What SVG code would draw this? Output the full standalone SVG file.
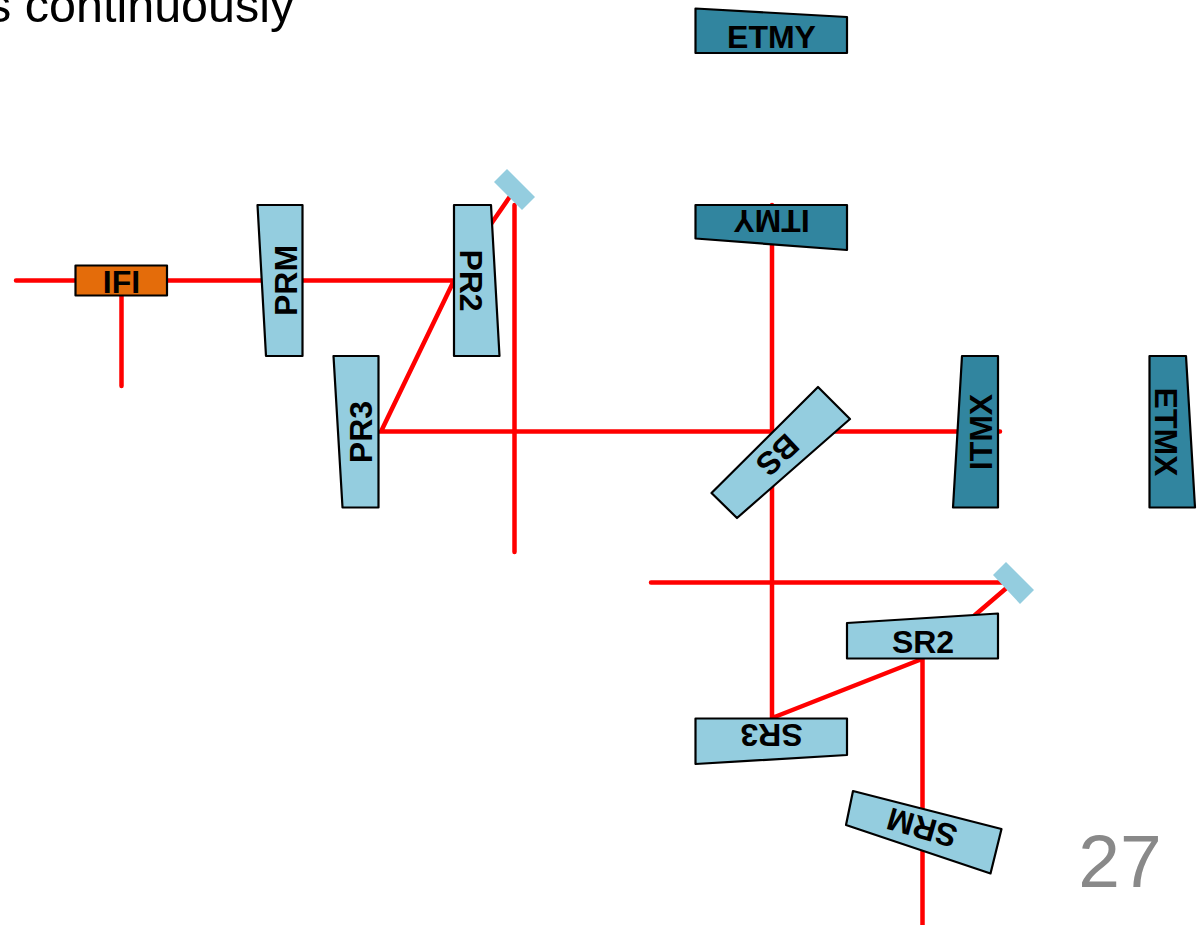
<svg xmlns="http://www.w3.org/2000/svg" width="1201" height="925" viewBox="0 0 1201 925">
<style>
text{font-family:"Liberation Sans",Arial,sans-serif}
.b{fill:none;stroke:#ff0000;stroke-width:4.5;stroke-linecap:round}
.m{stroke:#000;stroke-width:2.2;stroke-linejoin:round}
.l{fill:#94cddf}.d{fill:#31859f}.o{fill:#e46c0a}
.t{font-weight:700;font-size:32px;text-anchor:middle;fill:#000}
</style>
<rect width="1201" height="925" fill="#fff"/>
<text x="-13" y="22" font-size="48.500" fill="#000">s continuously</text>
<g id="connectors">
<path class="b" d="M16 280.500H454M121.500 280.500V386M454 280.500L381 431.500H1000M491 224L511 195M514.500 205V552M772 205V718M651 582.500H1008M975 615L1010 585M772 718L922 659M922.500 659V925"/>
</g>
<g id="M1"><polygon fill="#94cddf" points="494,182 507,169 535,197 522,210"/></g>
<g id="M2"><polygon fill="#94cddf" points="993,575 1006,562 1034,590 1020,604"/></g>
<g id="IFI"><rect class="m o" x="75.500" y="265.500" width="91.500" height="30"/><text class="t" x="121.500" y="293">IFI</text></g>
<g id="PRM"><polygon class="m l" points="257.500,205 302.500,205 302.500,356 266,356"/><text class="t" transform="translate(296.500,280.500) rotate(-90)">PRM</text></g>
<g id="PR2"><polygon class="m l" points="454,205 491,205 499.500,356 454,356"/><text class="t" transform="translate(460,280.500) rotate(90)">PR2</text></g>
<g id="PR3"><polygon class="m l" points="333.500,356 378.500,356 378.500,507.500 342.500,507.500"/><text class="t" transform="translate(372,432) rotate(-90)">PR3</text></g>
<g id="ETMY"><polygon class="m d" points="695.500,8.500 847,17 847,53 695.500,53"/><text class="t" x="771.500" y="48">ETMY</text></g>
<g id="ITMY"><polygon class="m d" points="695.500,205 847,205 847,250 695.500,238.500"/><text class="t" transform="translate(771.500,210) rotate(180)">ITMY</text></g>
<g id="BS"><polygon class="m l" points="818,387 850,419 737,518 711.500,493"/><text class="t" transform="translate(770,447) rotate(137)" dy="0">BS</text></g>
<g id="ITMX"><polygon class="m d" points="962,356 998,356 998,507.500 953,507.500"/><text class="t" transform="translate(992,432) rotate(-90)">ITMX</text></g>
<g id="ETMX"><polygon class="m d" points="1149.500,356 1186,356 1195,507.500 1149.500,507.500"/><text class="t" transform="translate(1155,432) rotate(90)">ETMX</text></g>
<g id="SR2"><polygon class="m l" points="847,623 998,613.500 998,658.500 847,658.500"/><text class="t" x="923" y="653">SR2</text></g>
<g id="SR3"><polygon class="m l" points="695.500,718.500 847,718.500 847,755 695.500,764"/><text class="t" transform="translate(771.500,724) rotate(180)">SR3</text></g>
<g id="SRM"><polygon class="m l" points="853,791 1001.500,829 990.500,873.500 846,825"/><text class="t" transform="translate(925,817) rotate(196)">SRM</text></g>
<text x="1120" y="887" font-size="75" fill="#898989" text-anchor="middle">27</text>
</svg>
